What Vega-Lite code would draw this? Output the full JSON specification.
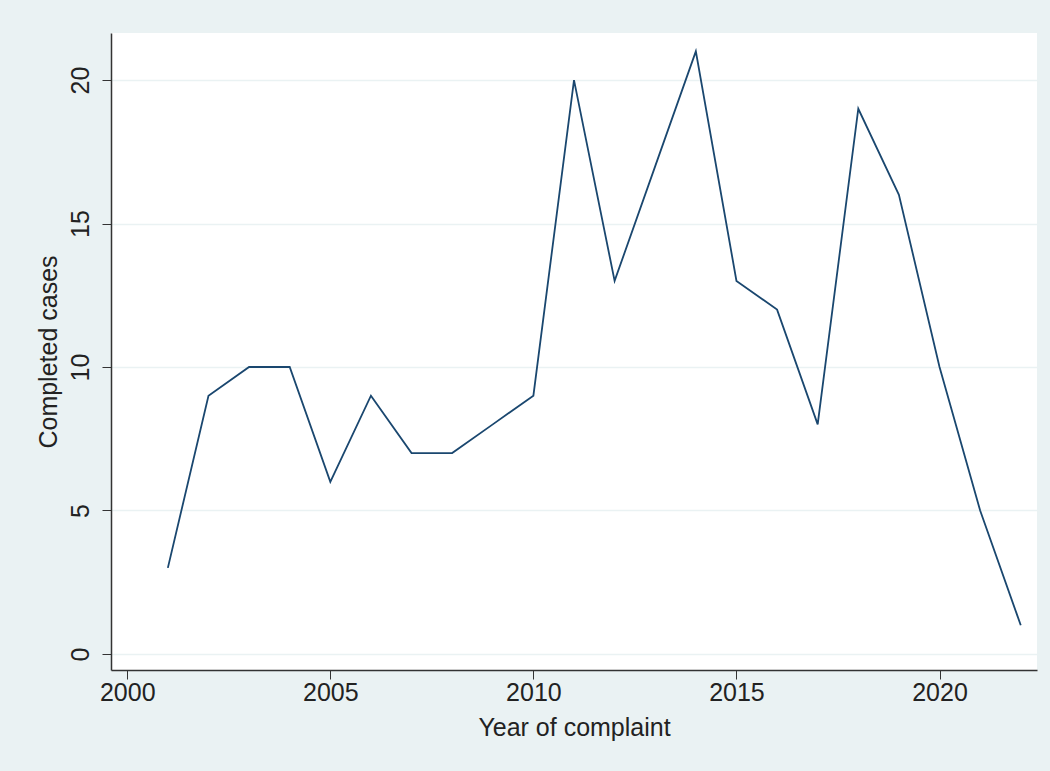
{
  "$schema": "https://vega.github.io/schema/vega-lite/v6.json",
  "autosize": {"type": "none"},
  "width": 926,
  "height": 637,
  "padding": {"left": 111, "top": 33, "right": 13, "bottom": 101},
  "background": "#eaf2f3",
  "config": {
    "view": {"fill": "white", "stroke": null},
    "font": "Liberation Sans"
  },
  "data": {
    "values": [
      {"year": 2001, "cases": 3},
      {"year": 2002, "cases": 9},
      {"year": 2003, "cases": 10},
      {"year": 2004, "cases": 10},
      {"year": 2005, "cases": 6},
      {"year": 2006, "cases": 9},
      {"year": 2007, "cases": 7},
      {"year": 2008, "cases": 7},
      {"year": 2009, "cases": 8},
      {"year": 2010, "cases": 9},
      {"year": 2011, "cases": 20},
      {"year": 2012, "cases": 13},
      {"year": 2013, "cases": 17},
      {"year": 2014, "cases": 21},
      {"year": 2015, "cases": 13},
      {"year": 2016, "cases": 12},
      {"year": 2017, "cases": 8},
      {"year": 2018, "cases": 19},
      {"year": 2019, "cases": 16},
      {"year": 2020, "cases": 10},
      {"year": 2021, "cases": 5},
      {"year": 2022, "cases": 1}
    ]
  },
  "mark": {"type": "line", "color": "#1a476f", "strokeWidth": 1.8},
  "encoding": {
    "x": {
      "field": "year",
      "type": "quantitative",
      "scale": {"domain": [1999.6, 2022.4], "nice": false, "zero": false},
      "axis": {
        "title": "Year of complaint",
        "values": [2000, 2005, 2010, 2015, 2020],
        "format": "d",
        "grid": false,
        "domainColor": "#333333",
        "domainWidth": 1.5,
        "tickColor": "#333333",
        "tickSize": 9,
        "labelFontSize": 25,
        "labelColor": "#222222",
        "labelPadding": 1,
        "titleFontSize": 25,
        "titleFontWeight": "normal",
        "titleColor": "#222222",
        "titlePadding": 10
      }
    },
    "y": {
      "field": "cases",
      "type": "quantitative",
      "scale": {"domain": [-0.56, 21.64], "nice": false, "zero": false},
      "axis": {
        "title": "Completed cases",
        "values": [0, 5, 10, 15, 20],
        "grid": true,
        "gridColor": "#eaf2f3",
        "gridWidth": 1.5,
        "domainColor": "#333333",
        "domainWidth": 1.5,
        "tickColor": "#333333",
        "tickSize": 9,
        "labelAngle": -90,
        "labelAlign": "center",
        "labelBaseline": "bottom",
        "labelFontSize": 25,
        "labelColor": "#222222",
        "labelPadding": 9,
        "titleFontSize": 25,
        "titleFontWeight": "normal",
        "titleColor": "#222222",
        "titlePadding": 7
      }
    }
  }
}
